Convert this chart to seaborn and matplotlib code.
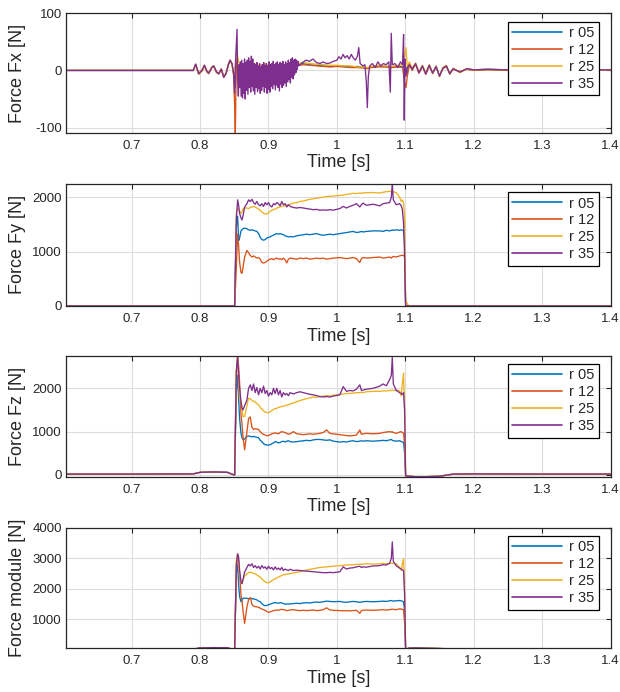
import numpy as np
import pandas as pd
import matplotlib
matplotlib.use("Agg")
import matplotlib.pyplot as plt
import seaborn as sns

# ---------------- data ----------------
series_names = ["r 05", "r 12", "r 25", "r 35"]
series_colors = ["#0072BD", "#D95319", "#EDB120", "#7E2F8E"]

x_ticks = [0.7, 0.8, 0.9, 1.0, 1.1, 1.2, 1.3, 1.4]
x_tick_labels = ["0.7", "0.8", "0.9", "1", "1.1", "1.2", "1.3", "1.4"]

y_labels = ["Force Fx [N]", "Force Fy [N]", "Force Fz [N]", "Force module [N]"]
y_ticks = [[-100, 0, 100], [0, 1000, 2000], [0, 1000, 2000], [1000, 2000, 3000, 4000]]
y_tick_labels = [["-100", "0", "100"], ["0", "1000", "2000"], ["0", "1000", "2000"],
                 ["1000", "2000", "3000", "4000"]]
y_limits = [(-109, 100), (0, 2245), (-40, 2753), (58, 4000)]
x_limits = (0.604, 1.4)

# Fx : time grid shared by r05, r12, r25
fx_t = [0.604, 0.700, 0.790, 0.7936, 0.7980, 0.8030, 0.8064, 0.8100, 0.8127, 0.8170,
        0.8200, 0.8240, 0.8273, 0.8310, 0.8346, 0.8380, 0.8418, 0.8440, 0.8467, 0.8491,
        0.8505, 0.8515, 0.8530, 0.8549, 0.8564, 0.8590, 0.8620, 0.8660, 0.8700, 0.8750,
        0.8800, 0.8850, 0.8900, 0.8950, 0.9000, 0.9100, 0.9200, 0.9300, 0.9400, 0.9500,
        0.9600, 0.9700, 0.9800, 0.9900, 1.0000, 1.0100, 1.0200, 1.0300, 1.0400, 1.0450,
        1.0500, 1.0600, 1.0700, 1.0800, 1.0900, 1.0960, 1.0990, 1.1010, 1.1030, 1.1060,
        1.1100, 1.1150, 1.1200, 1.1250, 1.1300, 1.1350, 1.1400, 1.1450, 1.1500, 1.1550,
        1.1600, 1.1650, 1.1700, 1.1800, 1.1900, 1.2000, 1.2200, 1.2500, 1.3000, 1.3500,
        1.4000]
fx_r05 = [0, 0, 0, 10, -6, 0, 8, -2, -5, 5,
          8, -3, -6, 2, -12, -5, 12, 18, 10, -6,
          -20, -30, 10, 5, -5, 5, 8, 4, 10, 5,
          8, 4, 6, 5, 7, 8, 6, 8, 9, 12,
          10, 9, 8, 7, 8, 7, 6, 7, 5, 4,
          6, 8, 7, 6, 8, 6, 10, 5, -5, 10,
          2, 12, -4, 8, -6, 9, -5, 7, -10, 4,
          8, -6, 3, -3, 3, 1, 2, 1, 1, 1,
          1]
fx_r12 = [0, 0, 0, 11, -5, 1, 9, -1, -4, 4,
          7, -2, -5, 3, -11, -6, 11, 17, 12, -10,
          -60, -115, 20, 10, -10, 0, 5, 2, 8, 3,
          6, 2, 5, 4, 5, 6, 5, 7, 8, 10,
          9, 8, 7, 6, 7, 6, 5, 5, 4, 3,
          5, 6, 6, 5, 6, 5, -20, -30, -10, 12,
          0, 11, -5, 7, -7, 8, -4, 6, -9, 3,
          7, -5, 2, -2, 2, 0, 1, 0, 1, 1,
          1]
fx_r25 = [0, 0, 0, 9, -7, -1, 7, -3, -6, 6,
          8, -4, -6, 1, -12, -4, 13, 18, 9, -5,
          -10, 10, 30, 25, 15, 10, 12, 8, 13, 10,
          12, 9, 10, 12, 8, 10, 9, 10, 11, 14,
          12, 11, 10, 9, 9, 8, 8, 6, 6, 5,
          7, 9, 8, 7, 9, 10, 25, 40, 5, 15,
          4, 13, -3, 9, -5, 10, -6, 8, -11, 5,
          9, -7, 4, -4, 3, 1, 2, 1, 1, 1,
          1]
# Fx r35 has its own, denser time grid (noisy band 0.857-0.944 s)
fx_r35_t = [0.604, 0.700, 0.790, 0.7936, 0.7980, 0.8030, 0.8064, 0.8100, 0.8127, 0.8170,
            0.8200, 0.8240, 0.8273, 0.8310, 0.8346, 0.8380, 0.8418, 0.8440, 0.8467, 0.8491,
            0.8505, 0.8520, 0.8540, 0.8550, 0.8560,
            0.857, 0.858, 0.859, 0.860, 0.861, 0.862, 0.863, 0.864, 0.865, 0.866,
            0.867, 0.868, 0.869, 0.870, 0.871, 0.872, 0.873, 0.874, 0.875, 0.876,
            0.877, 0.878, 0.879, 0.880, 0.881, 0.882, 0.883, 0.884, 0.885, 0.886,
            0.887, 0.888, 0.889, 0.890, 0.891, 0.892, 0.893, 0.894, 0.895, 0.896,
            0.897, 0.898, 0.899, 0.900, 0.901, 0.902, 0.903, 0.904, 0.905, 0.906,
            0.907, 0.908, 0.909, 0.910, 0.911, 0.912, 0.913, 0.914, 0.915, 0.916,
            0.917, 0.918, 0.919, 0.920, 0.921, 0.922, 0.923, 0.924, 0.925, 0.926,
            0.927, 0.928, 0.929, 0.930, 0.931, 0.932, 0.933, 0.934, 0.935, 0.936,
            0.937, 0.938, 0.939, 0.940, 0.941, 0.942, 0.943, 0.944,
            0.9500, 0.9550, 0.9600, 0.9650, 0.9700, 0.9750,
            0.9800, 0.9850, 0.9900, 0.9950, 1.0000, 1.0030, 1.0060, 1.0090, 1.0120, 1.0150,
            1.0180, 1.0210, 1.0240, 1.0270, 1.0300, 1.0320, 1.0340, 1.0380, 1.0410, 1.0430,
            1.0445, 1.0460, 1.0480, 1.0520, 1.0560, 1.0600, 1.0640, 1.0680, 1.0720, 1.0760,
            1.0781, 1.0795, 1.0810, 1.0850, 1.0890, 1.0930, 1.0960, 1.0975, 1.0985, 1.0995,
            1.1010, 1.1030, 1.1060, 1.1100, 1.1150, 1.1200, 1.1250, 1.1300, 1.1350, 1.1400,
            1.1450, 1.1500, 1.1550, 1.1600, 1.1650, 1.1700, 1.1800, 1.1900, 1.2000, 1.2200,
            1.2500, 1.3000, 1.3500, 1.4000]
fx_r35 = [0, 0, 0, 11, -6, 0, 9, -2, -5, 5,
          8, -3, -6, 2, -12, -5, 12, 18, 12, -5,
          -40, 20, 72, -20, -45,
          10, -30, 15, -45, 18, -48, 12, -40, 20, -50,
          14, -35, 18, -42, 22, -30, 16, -38, 25, -28,
          20, -36, 12, -42, 10, -30, 14, -37, 8, -32,
          12, -40, 6, -35, 10, -28, 14, -38, 9, -30,
          12, -40, 8, -33, 15, -38, 10, -28, 12, -32,
          16, -25, 10, -34, 13, -26, 15, -30, 11, -36,
          14, -24, 12, -30, 16, -26, 10, -22, 15, -28,
          12, -20, 18, -16, 14, -22, 20, -12, 22, -15,
          18, -8, 20, -4, 18, 2, 16, 8,
          14, 18, 16, 20, 14, 12,
          15, 12, 13, 16, 18, 24, 20, 28, 22, 26,
          20, 28, 22, 18, 25, 40, 12, 8, 10, -20,
          -65, -10, 8, 12, 5, 15, 8, 12, 10, 15,
          -38, 65, 10, 12, 5, 15, 10, 63, -87, 20,
          -10, 5, 10, 2, 12, -4, 8, -6, 9, -5,
          7, -10, 4, 8, -6, 3, -3, 3, 1, 2,
          1, 1, 1, 1]

# Fy, Fz, module : shared time grid
t_grid = [0.604, 0.700, 0.790, 0.800, 0.820, 0.840, 0.848, 0.8505, 0.8530, 0.8549,
          0.8564, 0.8578, 0.8598, 0.8612, 0.8627, 0.8651, 0.8685, 0.8709, 0.8734, 0.8758,
          0.8782, 0.8806, 0.8830, 0.8855, 0.8879, 0.8903, 0.8928, 0.8952, 0.8976, 0.9000,
          0.9025, 0.9049, 0.9073, 0.9097, 0.9122, 0.9146, 0.9170, 0.9194, 0.9218, 0.9243,
          0.9267, 0.9291, 0.9316, 0.9364, 0.9413, 0.9461, 0.9510, 0.9558, 0.9607, 0.9655,
          0.9704, 0.9752, 0.9800, 0.9849, 0.9898, 0.9946, 1.0044, 1.0092, 1.0140, 1.0189,
          1.0237, 1.0286, 1.0335, 1.0359, 1.0383, 1.0432, 1.0529, 1.0626, 1.0674, 1.0723,
          1.0771, 1.0796, 1.0810, 1.0825, 1.0869, 1.0917, 1.0941, 1.0956, 1.0975, 1.0990,
          1.1005, 1.1050, 1.1150, 1.1300, 1.1500, 1.1700, 1.2000, 1.3000, 1.4000]

fy_r05 = [0, 0, 0, 0, 0, 0, 0, 0, 1450, 1650,
          1200, 1250, 1380, 1400, 1420, 1430, 1420, 1400, 1390, 1400,
          1390, 1380, 1370, 1330, 1260, 1220, 1210, 1220, 1250, 1260,
          1270, 1290, 1300, 1320, 1330, 1320, 1330, 1320, 1310, 1290,
          1280, 1270, 1275, 1270, 1290, 1300, 1310, 1320, 1310, 1320,
          1330, 1310, 1300, 1310, 1320, 1310, 1330, 1340, 1350, 1360,
          1370, 1350, 1360, 1370, 1360, 1370, 1380, 1380, 1370, 1390,
          1380, 1390, 1400, 1390, 1400, 1390, 1400, 1395, 1380, 1200,
          0, 0, 0, 0, 0, 0, 0, 0, 0]
fy_r12 = [0, 0, 0, 0, 0, 0, 0, 0, 700, 1320,
          1100, 800, 620, 600, 700, 900, 1020, 980, 930, 900,
          920, 900, 880, 890, 860, 800, 790, 800, 820, 850,
          860, 870, 850, 870, 880, 860, 870, 850, 880, 850,
          790, 860, 880, 870, 860, 880, 870, 880, 860, 870,
          880, 870, 880, 860, 870, 880, 890, 880, 870, 880,
          890, 870, 800, 870, 890, 880, 890, 900, 880, 890,
          900, 880, 900, 910, 900, 920, 930, 930, 930, 900,
          0, 0, 0, 0, 0, 0, 0, 0, 0]
fy_r25 = [0, 0, 0, 0, 0, 0, 0, 0, 1700, 1800,
          1780, 1740, 1700, 1730, 1780, 1800, 1800, 1790, 1810, 1820,
          1830, 1820, 1800, 1780, 1760, 1730, 1700, 1690, 1690, 1710,
          1740, 1760, 1770, 1780, 1800, 1810, 1820, 1830, 1840, 1840,
          1850, 1860, 1870, 1890, 1900, 1920, 1930, 1945, 1960, 1970,
          1980, 1990, 2000, 2010, 2015, 2020, 2030, 2040, 2050, 2060,
          2070, 2065, 2075, 2070, 2080, 2080, 2085, 2075, 2090, 2100,
          2105, 2110, 2110, 2100, 2080, 2000, 1920, 1950, 1900, 1600,
          100, 0, 0, 0, 0, 0, 0, 0, 0]
fy_r35 = [0, 0, 0, 0, 0, 0, 0, 0, 1600, 1950,
          1850, 1700, 1620, 1580, 1650, 1820, 1880, 1950, 1920, 1960,
          1900, 1870, 1920, 1860, 1840, 1880, 1830, 1900, 1860, 1900,
          1840, 1820, 1880, 1860, 1900, 1880, 1840, 1920, 1860, 1880,
          1820, 1860, 1830, 1810, 1800, 1810, 1800, 1790, 1780, 1770,
          1775, 1760, 1765, 1760, 1770, 1760, 1790, 1830, 1800, 1830,
          1850, 1880, 1820, 1860, 1890, 1850, 1870, 1840, 1880, 1890,
          1900, 2000, 2245, 1950, 1860, 1880, 1840, 1780, 1520, 900,
          0, 0, 0, 0, 0, 0, 0, 0, 0]

fz_r05 = [20, 20, 25, 60, 70, 60, 10, 0, 1900, 2300,
          1750, 1300, 960, 870, 810, 830, 890, 900, 890, 880,
          890, 880, 870, 860, 800, 770, 720, 700, 690, 690,
          700, 720, 740, 770, 760, 740, 750, 770, 780, 760,
          780, 790, 770, 760, 770, 780, 790, 800, 790, 810,
          820, 820, 810, 800, 810, 780, 760, 770, 760, 780,
          790, 770, 780, 790, 780, 790, 780, 790, 800, 790,
          810, 820, 800, 790, 780, 790, 770, 760, 750, 500,
          -20, -30, -40, -40, -30, 20, 25, 20, 20]
fz_r12 = [20, 20, 25, 60, 70, 60, 10, 0, 2300, 2750,
          2500, 2120, 1400, 1190, 900, 580, 1000, 1300, 1340, 1100,
          1050, 1070, 1060, 1050, 1000, 960, 940, 920, 905, 910,
          930, 950, 960, 970, 960, 950, 980, 1000, 990, 980,
          960, 940, 950, 1000, 950, 940, 930, 940, 950, 940,
          950, 960, 980, 1040, 960, 950, 930, 920, 910, 900,
          910, 920, 1040, 940, 950, 960, 950, 960, 980, 990,
          1000, 990, 1000, 980, 960, 990, 1000, 980, 960, 700,
          -20, -30, -40, -40, -30, 20, 25, 20, 20]
fz_r25 = [20, 20, 25, 60, 70, 60, 10, 0, 2400, 2700,
          2100, 1770, 1700, 1500, 1350, 1350, 1600, 1770, 1760, 1720,
          1700, 1680, 1650, 1620, 1560, 1520, 1480, 1450, 1440, 1440,
          1460, 1490, 1510, 1530, 1540, 1560, 1570, 1580, 1590, 1600,
          1610, 1620, 1640, 1660, 1690, 1720, 1740, 1760, 1780, 1800,
          1790, 1810, 1820, 1830, 1820, 1840, 1860, 1870, 1880, 1880,
          1890, 1900, 1900, 1910, 1900, 1920, 1930, 1930, 1940, 1940,
          1950, 1950, 1960, 1950, 1960, 1940, 1820, 2100, 2350, 1500,
          -20, -30, -40, -40, -30, 20, 25, 20, 20]
fz_r35 = [20, 20, 25, 60, 70, 60, 10, 0, 2400, 2730,
          2300, 2000, 1700, 1550, 1500, 1600, 1730, 2000, 2080, 1950,
          2100, 1900, 2020, 1850, 2000, 1900, 2050, 1880, 1950, 1820,
          1900, 1850, 2000, 1880, 2000, 1850, 1950, 1800, 1900, 1850,
          1880, 1830, 1900, 1870, 1900, 1920, 1900, 1880, 1860, 1850,
          1830, 1810, 1800, 1810, 1800, 1820, 1850, 2040, 1930, 1950,
          1940, 1980, 2080, 1950, 1960, 1980, 2000, 2050, 2100, 2060,
          2200, 2300, 2710, 2100, 1950, 1900, 1880, 1860, 1900, 1500,
          -20, -30, -40, -40, -30, 20, 25, 20, 20]

fm_r05 = [30, 30, 30, 70, 80, 75, 20, 0, 2500, 2800,
          2120, 1750, 1580, 1620, 1690, 1700, 1690, 1680, 1690, 1680,
          1670, 1660, 1640, 1600, 1580, 1520, 1470, 1450, 1460, 1480,
          1500, 1520, 1540, 1550, 1540, 1530, 1550, 1540, 1520, 1500,
          1510, 1500, 1510, 1520, 1530, 1520, 1540, 1550, 1540, 1560,
          1570, 1560, 1580, 1600, 1590, 1580, 1590, 1570, 1560, 1580,
          1590, 1580, 1560, 1570, 1580, 1590, 1580, 1590, 1600, 1590,
          1610, 1620, 1610, 1600, 1610, 1620, 1610, 1600, 1570, 1300,
          30, 60, 70, 60, 50, 40, 30, 30, 30]
fm_r12 = [30, 30, 30, 70, 80, 75, 20, 0, 2600, 3140,
          2900, 2490, 1800, 1630, 1300, 870, 1410, 1650, 1720, 1500,
          1440, 1420, 1410, 1400, 1370, 1340, 1320, 1300, 1260, 1230,
          1250, 1270, 1290, 1300, 1310, 1300, 1320, 1330, 1320, 1310,
          1290, 1300, 1310, 1320, 1300, 1290, 1300, 1290, 1300, 1310,
          1290, 1300, 1320, 1380, 1310, 1300, 1290, 1280, 1290, 1280,
          1290, 1300, 1200, 1290, 1300, 1310, 1300, 1310, 1320, 1310,
          1320, 1330, 1340, 1330, 1320, 1350, 1340, 1330, 1320, 900,
          30, 60, 70, 60, 50, 40, 30, 30, 30]
fm_r25 = [30, 30, 30, 70, 80, 75, 20, 0, 2900, 3140,
          2700, 2450, 2250, 2170, 2300, 2420, 2490, 2530, 2545, 2530,
          2510, 2490, 2460, 2420, 2380, 2330, 2270, 2230, 2200, 2200,
          2230, 2270, 2300, 2330, 2360, 2390, 2410, 2440, 2460, 2470,
          2480, 2490, 2500, 2520, 2540, 2560, 2590, 2620, 2640, 2660,
          2680, 2700, 2710, 2720, 2730, 2740, 2760, 2770, 2780, 2790,
          2790, 2800, 2810, 2800, 2810, 2820, 2810, 2820, 2830, 2820,
          2830, 2840, 2830, 2840, 2820, 2700, 2600, 2800, 2990, 2000,
          30, 60, 70, 60, 50, 40, 30, 30, 30]
fm_r35 = [30, 30, 30, 70, 80, 75, 20, 0, 2800, 3140,
          3030, 2600, 2250, 2170, 2300, 2550, 2700, 2800, 2750, 2820,
          2700, 2760, 2680, 2740, 2650, 2760, 2680, 2720, 2640, 2740,
          2660, 2700, 2620, 2720, 2640, 2680, 2620, 2700, 2600, 2650,
          2620, 2600, 2640, 2600, 2610, 2600, 2590, 2580, 2570, 2560,
          2550, 2540, 2530, 2530, 2540, 2530, 2560, 2720, 2650, 2680,
          2690, 2720, 2740, 2700, 2720, 2710, 2750, 2760, 2790, 2780,
          2840, 3000, 3536, 2900, 2750, 2680, 2650, 2620, 2600, 1800,
          30, 60, 70, 60, 50, 40, 30, 30, 30]


def long_frame(pairs):
    parts = []
    for name, (t, v) in zip(series_names, pairs):
        parts.append(pd.DataFrame({"t": t, "v": v, "series": name}))
    return pd.concat(parts, ignore_index=True)


frames = [
    long_frame([(fx_t, fx_r05), (fx_t, fx_r12), (fx_t, fx_r25), (fx_r35_t, fx_r35)]),
    long_frame([(t_grid, fy_r05), (t_grid, fy_r12), (t_grid, fy_r25), (t_grid, fy_r35)]),
    long_frame([(t_grid, fz_r05), (t_grid, fz_r12), (t_grid, fz_r25), (t_grid, fz_r35)]),
    long_frame([(t_grid, fm_r05), (t_grid, fm_r12), (t_grid, fm_r25), (t_grid, fm_r35)]),
]

# ---------------- style ----------------
sns.set_style("white")
plt.rcParams["font.family"] = ["Liberation Sans", "DejaVu Sans"]
plt.rcParams["axes.unicode_minus"] = False

W, H = 620, 692
fig = plt.figure(figsize=(W / 100, H / 100), dpi=100)
left_px, right_px = 66.0, 610.5
panel_px = [(13.3, 132.7), (183.8, 306.0), (355.7, 476.7), (527.7, 648.3)]
ink = "#262626"
palette = dict(zip(series_names, series_colors))

for i, (top, bot) in enumerate(panel_px):
    ax = fig.add_axes([left_px / W, 1 - bot / H, (right_px - left_px) / W, (bot - top) / H])
    sns.lineplot(data=frames[i], x="t", y="v", hue="series", palette=palette,
                 estimator=None, sort=False, linewidth=0.95, ax=ax)
    ax.set_xlim(*x_limits)
    ax.set_ylim(*y_limits[i])
    ax.set_xticks(x_ticks)
    ax.set_xticklabels(x_tick_labels)
    ax.set_yticks(y_ticks[i])
    ax.set_yticklabels(y_tick_labels[i])
    ax.grid(True, color="#dcdcdc", linewidth=0.8)
    ax.set_axisbelow(True)
    for sp in ax.spines.values():
        sp.set_color(ink)
        sp.set_linewidth(0.9)
    ax.tick_params(direction="in", length=3.5, width=0.8, top=True, right=True,
                   labelsize=9.5, colors=ink)
    ax.tick_params(axis="x", pad=5)
    ax.tick_params(axis="y", pad=3)
    ax.set_xlabel("Time [s]", fontsize=13, color=ink, labelpad=2)
    ax.set_ylabel(y_labels[i], fontsize=13, color=ink)
    ax.yaxis.set_label_coords((26.0 - left_px) / (right_px - left_px), 0.5)

    leg = ax.get_legend()
    handles = leg.legend_handles
    labels = [t.get_text() for t in leg.get_texts()]
    leg.remove()
    new_leg = ax.legend(handles, labels, loc="upper right",
                        bbox_to_anchor=(599.0 / W, 1 - (top + 8.4) / H),
                        bbox_transform=fig.transFigure, borderaxespad=0,
                        fontsize=10.5, frameon=True, fancybox=False,
                        edgecolor="#000000", framealpha=1, handlelength=3.4,
                        handletextpad=0.5, labelspacing=0.2, borderpad=0.3)
    new_leg.get_frame().set_linewidth(0.9)
    for ln in new_leg.get_lines():
        ln.set_linewidth(1.2)

fig.savefig("out.png", dpi=100)
